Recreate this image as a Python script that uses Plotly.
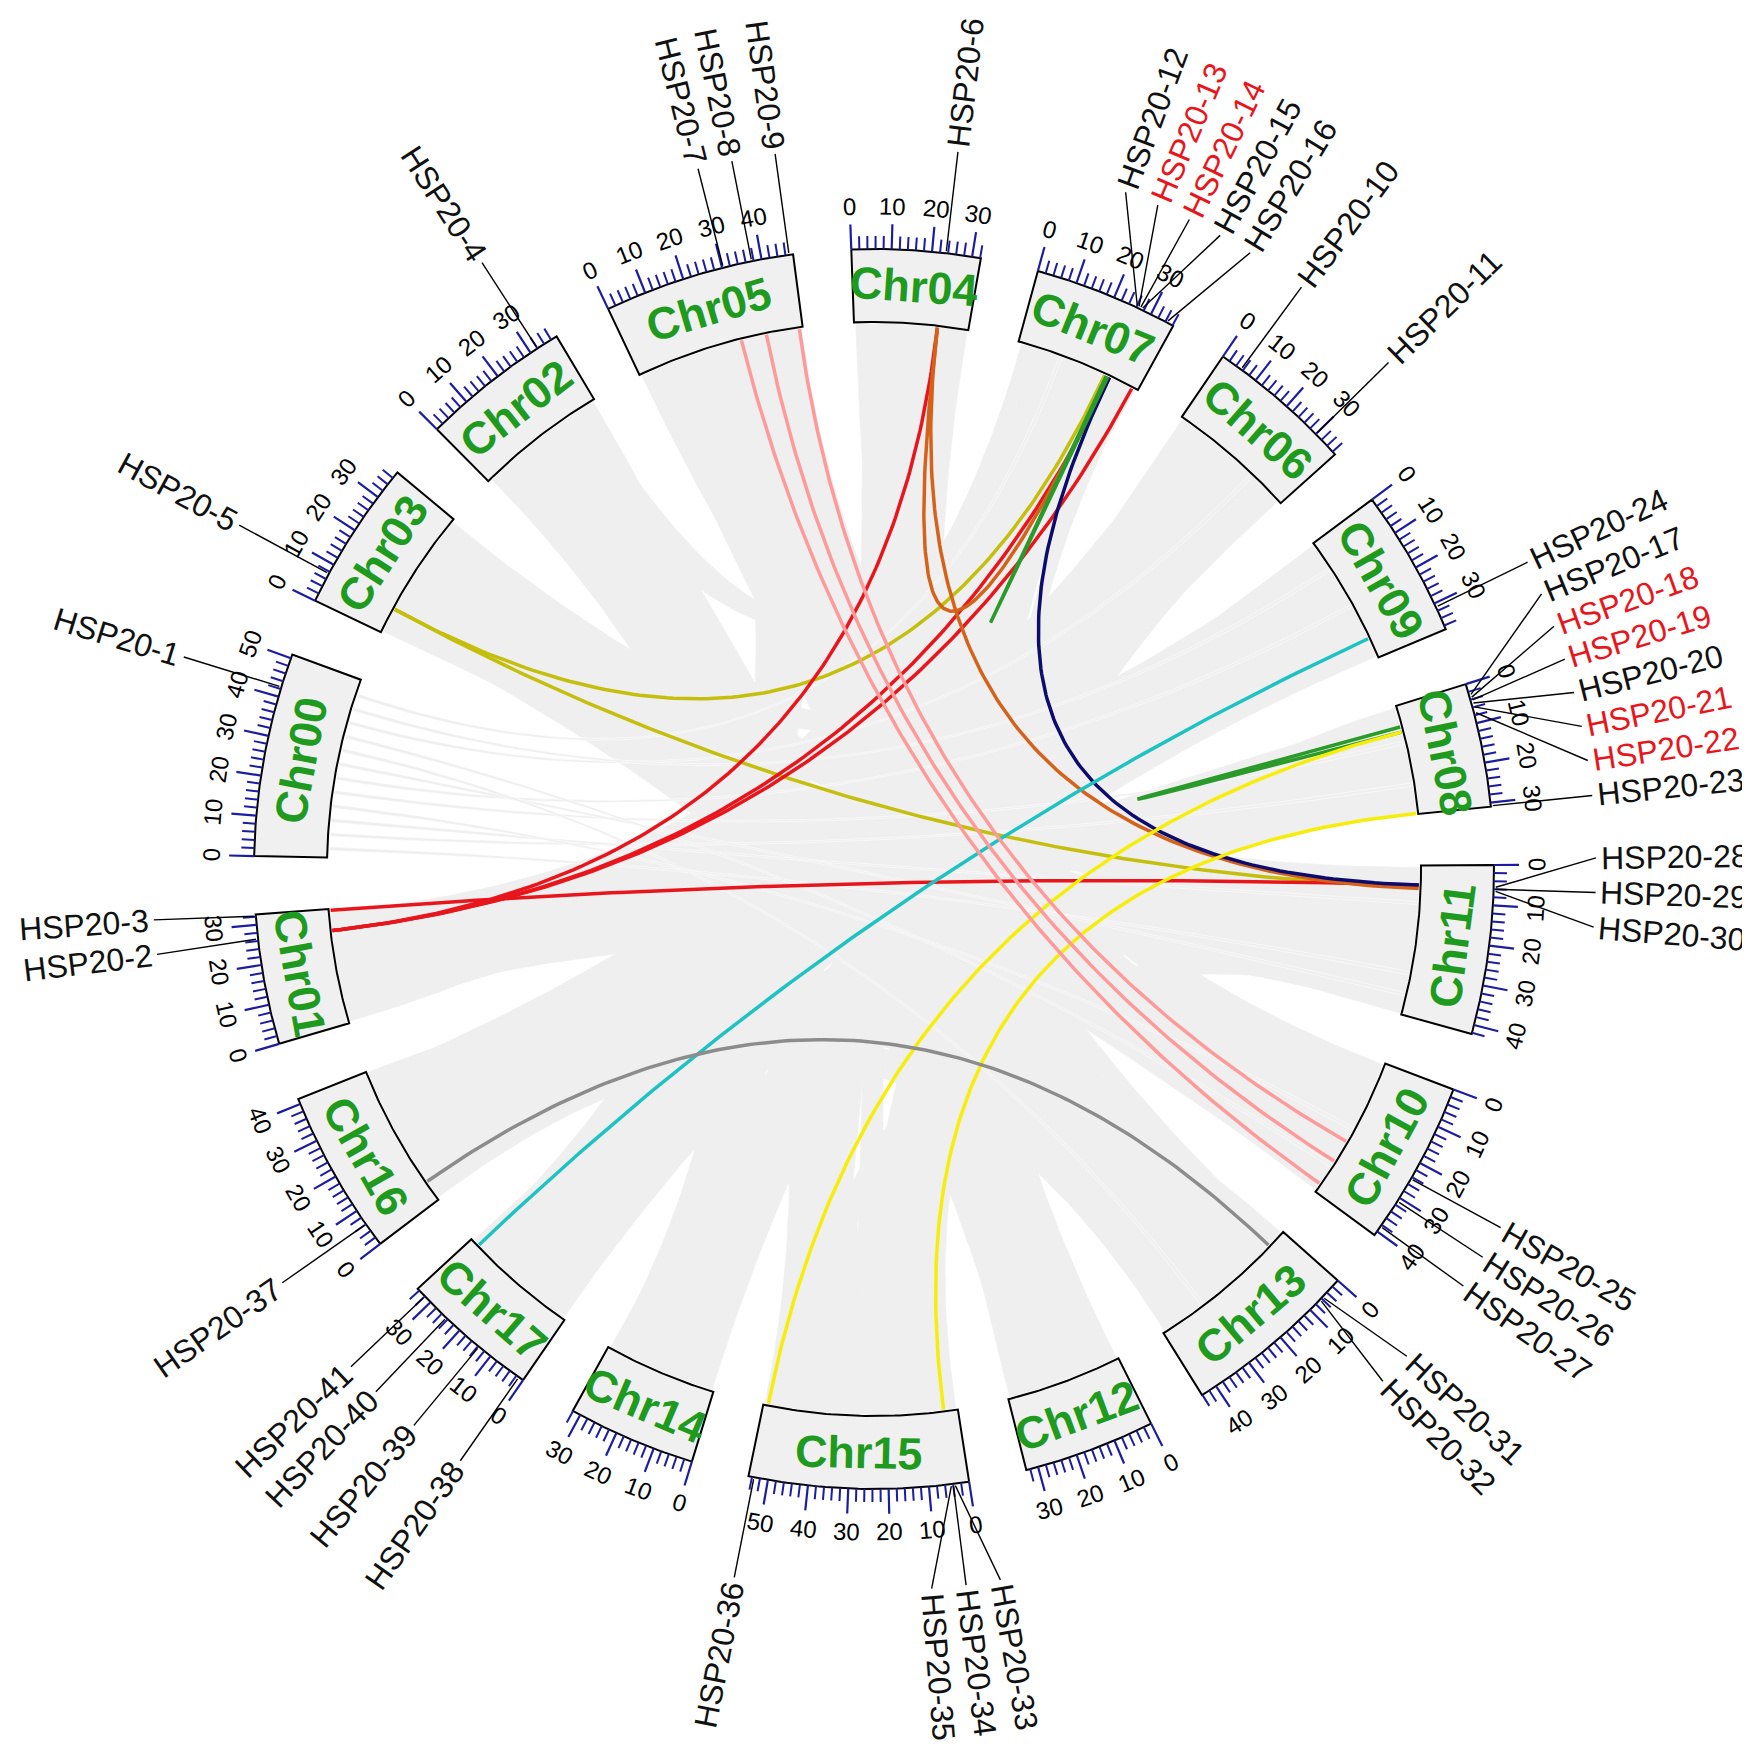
import math
import plotly.graph_objects as go

# chromosomes, clockwise from the top, with lengths in Mb
chroms = ["Chr04", "Chr07", "Chr06", "Chr09", "Chr08", "Chr11", "Chr10", "Chr13", "Chr12",
          "Chr15", "Chr14", "Chr17", "Chr16", "Chr01", "Chr00", "Chr03", "Chr02", "Chr05"]
chrom_len = [32.2, 36.2, 36.9, 37.0, 31.0, 42.3, 41.1, 44.1, 33.0,
             54.9, 32.1, 34.6, 41.3, 32.6, 51.0, 37.8, 37.6, 47.9]

# HSP20 genes: name, chromosome, position (Mb)
gene_names = ["HSP20-1", "HSP20-2", "HSP20-3", "HSP20-4", "HSP20-5", "HSP20-6", "HSP20-7",
              "HSP20-8", "HSP20-9", "HSP20-10", "HSP20-11", "HSP20-12", "HSP20-13", "HSP20-14",
              "HSP20-15", "HSP20-16", "HSP20-17", "HSP20-18", "HSP20-19", "HSP20-20", "HSP20-21",
              "HSP20-22", "HSP20-23", "HSP20-24", "HSP20-25", "HSP20-26", "HSP20-27", "HSP20-28",
              "HSP20-29", "HSP20-30", "HSP20-31", "HSP20-32", "HSP20-33", "HSP20-34", "HSP20-35",
              "HSP20-36", "HSP20-37", "HSP20-38", "HSP20-39", "HSP20-40", "HSP20-41"]
gene_chrom = ["Chr00", "Chr01", "Chr01", "Chr02", "Chr03", "Chr04", "Chr05",
              "Chr05", "Chr05", "Chr06", "Chr06", "Chr07", "Chr07", "Chr07",
              "Chr07", "Chr07", "Chr08", "Chr08", "Chr08", "Chr08", "Chr08",
              "Chr08", "Chr08", "Chr09", "Chr10", "Chr10", "Chr10", "Chr11",
              "Chr11", "Chr11", "Chr13", "Chr13", "Chr15", "Chr15", "Chr15",
              "Chr15", "Chr16", "Chr17", "Chr17", "Chr17", "Chr17"]
gene_pos = [42.5, 26.5, 32.2, 32.0, 7.5, 23.5, 30.3,
            37.5, 46.9, 5.5, 30.0, 26.0, 26.5, 27.0,
            27.5, 34.5, 2.8, 3.5, 4.2, 5.0, 6.0,
            7.5, 30.8, 31.0, 24.5, 31.0, 38.5, 5.5,
            6.0, 6.5, 5.5, 6.5, 3.5, 4.0, 4.5,
            53.5, 6.0, 1.3, 13.7, 24.5, 32.0]
tandem_genes = ["HSP20-13", "HSP20-14", "HSP20-18", "HSP20-19", "HSP20-21", "HSP20-22"]

# duplicated gene pairs
link_a = ["HSP20-5", "HSP20-5", "HSP20-6", "HSP20-15", "HSP20-16", "HSP20-3", "HSP20-6",
          "HSP20-6", "HSP20-15", "HSP20-13", "HSP20-21", "HSP20-24", "HSP20-22", "HSP20-23",
          "HSP20-37", "HSP20-7", "HSP20-8", "HSP20-9"]
link_b = ["HSP20-12", "HSP20-29", "HSP20-2", "HSP20-2", "HSP20-2", "HSP20-28", "HSP20-30",
          "HSP20-14", "HSP20-28", "HSP20-14", "HSP20-22", "HSP20-41", "HSP20-36", "HSP20-34",
          "HSP20-31", "HSP20-27", "HSP20-26", "HSP20-25"]
link_color = ["#C4BE0C", "#C4BE0C", "#E8161C", "#E8161C", "#E8161C", "#E8161C", "#D5621A",
              "#D5621A", "#0C0C6E", "#2A9A2A", "#2A9A2A", "#1FC2C2", "#F6EE0A", "#F6EE0A",
              "#8C8C8C", "#FF9A9A", "#FF9A9A", "#FF9A9A"]

# collinear blocks in the background
blk_a = ["Chr01", "Chr01", "Chr02", "Chr02", "Chr03", "Chr03", "Chr04", "Chr04", "Chr05",
         "Chr05", "Chr05", "Chr06", "Chr06", "Chr08", "Chr08", "Chr09", "Chr09", "Chr13",
         "Chr13",
         "Chr04", "Chr04", "Chr07", "Chr07", "Chr06", "Chr06", "Chr09", "Chr09", "Chr08",
         "Chr11", "Chr11", "Chr10", "Chr10", "Chr13", "Chr13", "Chr12", "Chr12", "Chr14",
         "Chr17", "Chr15", "Chr16", "Chr01",
         "Chr02", "Chr05", "Chr03", "Chr04", "Chr07", "Chr06", "Chr09", "Chr08", "Chr11",
         "Chr14", "Chr17", "Chr12", "Chr15", "Chr13", "Chr16",
         "Chr00", "Chr00", "Chr00", "Chr00", "Chr00", "Chr00", "Chr00", "Chr00", "Chr00",
         "Chr00", "Chr00", "Chr00"]
blk_a1 = [0.5, 16, 1, 21, 0.5, 19, 0.5, 16, 0.5, 16, 33, 0.5, 18, 0.5, 15, 0.5, 18, 0.5,
          21,
          4, 18, 2, 18, 2, 20, 3, 20, 8, 10, 26, 3, 22, 5, 28, 5, 20, 20, 3, 40, 30, 20,
          2, 2, 2, 2, 2, 2, 2, 2, 2, 2, 2, 2, 2, 2, 2,
          2, 6, 10, 14, 18, 22, 26, 30, 34, 38, 42, 46]
blk_a2 = [15, 32, 20, 37, 18, 37, 15, 32, 15, 32, 47.5, 17, 36, 14, 30.5, 17, 36.5, 20,
          43.5,
          14, 30, 14, 30, 15, 34, 15, 34, 20, 22, 40, 14, 36, 18, 40, 15, 30, 30, 12, 50, 40,
          30,
          36, 46, 36, 30, 35, 35, 35, 30, 41, 31, 33, 31, 30, 42, 40,
          3, 7, 11, 15, 19, 23, 27, 31, 35, 39, 43, 47]
blk_b = ["Chr07", "Chr07", "Chr15", "Chr15", "Chr11", "Chr11", "Chr12", "Chr12", "Chr10",
         "Chr10", "Chr10", "Chr14", "Chr14", "Chr15", "Chr15", "Chr17", "Chr17", "Chr16",
         "Chr16",
         "Chr15", "Chr14", "Chr02", "Chr16", "Chr17", "Chr01", "Chr16", "Chr03", "Chr01",
         "Chr16", "Chr05", "Chr03", "Chr02", "Chr05", "Chr07", "Chr05", "Chr06", "Chr09",
         "Chr04", "Chr11", "Chr08", "Chr13",
         "Chr12", "Chr13", "Chr10", "Chr15", "Chr17", "Chr16", "Chr01", "Chr16", "Chr01",
         "Chr02", "Chr05", "Chr07", "Chr06", "Chr03", "Chr09",
         "Chr11", "Chr08", "Chr11", "Chr10", "Chr08", "Chr09", "Chr11", "Chr13", "Chr10",
         "Chr06", "Chr09", "Chr07"]
blk_b1 = [1, 17, 36, 27, 22, 0.5, 17, 0.5, 27, 14, 0.5, 16, 0.5, 13, 0.5, 18, 0.5, 21,
          0.5,
          20, 5, 22, 10, 20, 5, 25, 20, 18, 2, 5, 5, 3, 20, 30, 35, 8, 10, 20, 30, 22, 30,
          2, 2, 16, 35, 2, 2, 2, 20, 5, 5, 20, 5, 10, 2, 5,
          30, 22, 10, 20, 10, 20, 36, 30, 32, 25, 8, 12]
blk_b2 = [16, 35.5, 54.5, 35, 42, 21, 32.5, 16, 40.5, 26, 13, 31.5, 15, 26, 12, 34, 17, 41,
          20,
          30, 18, 35, 22, 32, 15, 38, 32, 30, 12, 15, 15, 14, 30, 35, 45, 16, 18, 28, 38, 30,
          40,
          31, 42, 40, 53, 33, 40, 31, 40, 30, 30, 46, 30, 35, 30, 35,
          31, 23, 11, 21, 11, 21, 37, 31, 33, 26, 9, 13]

W, H = 1750, 1745
CX, CY = 866, 884
R_LINK, R_IN, R_OUT = 545, 547, 620
GAP, START = 5.4, 92.1
SEP = 2.75

deg_mb = (360 - GAP * len(chroms)) / sum(chrom_len)
chr_start = {}
a = START
for c, L in zip(chroms, chrom_len):
    chr_start[c] = a
    a -= L * deg_mb + GAP


def ang(c, p):
    return chr_start[c] - p * deg_mb


def xy(r, d):
    t = math.radians(d)
    return CX + r * math.cos(t), CY + r * math.sin(t)


def arc(r, d1, d2, n=40):
    return [xy(r, d1 + (d2 - d1) * k / n) for k in range(n + 1)]


def bez(p0, p2, n=80):
    pts = []
    for k in range(n + 1):
        t = k / n
        pts.append(((1 - t) ** 2 * p0[0] + 2 * t * (1 - t) * CX + t * t * p2[0],
                    (1 - t) ** 2 * p0[1] + 2 * t * (1 - t) * CY + t * t * p2[1]))
    return pts


def tang(d):
    return ((90 - d + 90) % 180) - 90


def radial(d):
    return ((-d + 90) % 180) - 90


cw = {"H": .722, "S": .667, "P": .667, "-": .333}


def twidth(s, size):
    return sum(cw.get(ch, .556) for ch in s) * size


fig = go.Figure()

# background collinear ribbons
for i in range(len(blk_a)):
    pts = arc(R_LINK, ang(blk_a[i], blk_a1[i]), ang(blk_a[i], blk_a2[i]), 20)
    pts += bez(pts[-1], xy(R_LINK, ang(blk_b[i], blk_b1[i])))
    pts += arc(R_LINK, ang(blk_b[i], blk_b1[i]), ang(blk_b[i], blk_b2[i]), 20)
    pts += bez(pts[-1], xy(R_LINK, ang(blk_a[i], blk_a1[i])))
    thin = blk_a2[i] - blk_a1[i] < 2
    fig.add_trace(go.Scatter(x=[p[0] for p in pts], y=[p[1] for p in pts], mode="lines",
                             fill="toself", fillcolor="#EFEFEF",
                             line=dict(color="white" if thin else "#EFEFEF", width=0.5),
                             hoverinfo="skip"))

gi = {g: k for k, g in enumerate(gene_names)}
gene_ang = [ang(c, p) for c, p in zip(gene_chrom, gene_pos)]

# gene pair links
for a_, b_, col in zip(link_a, link_b, link_color):
    p0 = xy(R_LINK, gene_ang[gi[a_]])
    p2 = xy(R_LINK, gene_ang[gi[b_]])
    pts = bez(p0, p2, 120)
    fig.add_trace(go.Scatter(x=[p[0] for p in pts], y=[p[1] for p in pts], mode="lines",
                             line=dict(color=col, width=3.5), hoverinfo="skip"))

ann = []
tx, ty, mx, my = [], [], [], []
for c, L in zip(chroms, chrom_len):
    s, e = ang(c, 0), ang(c, L)
    box = arc(R_OUT, s, e) + arc(R_IN, e, s)
    box.append(box[0])
    fig.add_trace(go.Scatter(x=[p[0] for p in box], y=[p[1] for p in box], mode="lines",
                             fill="toself", fillcolor="#F0F0F0",
                             line=dict(color="black", width=2), hoverinfo="skip"))
    mid = (s + e) / 2
    px, py = xy((R_IN + R_OUT) / 2, mid)
    ann.append(dict(x=px, y=py, text="<b>%s</b>" % c, showarrow=False, textangle=tang(mid),
                    font=dict(size=45, color="#1E9B1E", family="Liberation Sans, Arial")))
    p = 0
    while p <= L:
        d = ang(c, p)
        major = p % 10 == 0
        x1, y1 = xy(R_OUT, d)
        x2, y2 = xy(R_OUT + (25 if major else 13), d)
        if major:
            mx += [x1, x2, None]
            my += [y1, y2, None]
            lx, ly = xy(R_OUT + 43, d)
            ann.append(dict(x=lx, y=ly, text=str(p), showarrow=False, textangle=tang(d),
                            font=dict(size=24, color="black", family="Liberation Sans, Arial")))
        else:
            tx += [x1, x2, None]
            ty += [y1, y2, None]
        p += 2

fig.add_trace(go.Scatter(x=tx, y=ty, mode="lines", line=dict(color="#1C1CA0", width=2),
                         hoverinfo="skip"))
fig.add_trace(go.Scatter(x=mx, y=my, mode="lines", line=dict(color="#1C1CA0", width=2.2),
                         hoverinfo="skip"))

# spread gene labels so neighbours keep a minimum angular distance
order = sorted(range(len(gene_names)), key=lambda i: -gene_ang[i])
clusters = [[i] for i in order]


def cmean(cl):
    return sum(gene_ang[i] for i in cl) / len(cl)


changed = True
while changed:
    changed = False
    for k in range(len(clusters) - 1):
        c1, c2 = clusters[k], clusters[k + 1]
        low1 = cmean(c1) - (len(c1) - 1) * SEP / 2
        high2 = cmean(c2) + (len(c2) - 1) * SEP / 2
        if low1 - high2 < SEP:
            clusters[k] = c1 + c2
            del clusters[k + 1]
            changed = True
            break

label_ang = {}
for cl in clusters:
    m = cmean(cl)
    for j, i in enumerate(cl):
        label_ang[i] = m + ((len(cl) - 1) / 2 - j) * SEP

lx_, ly_ = [], []
for i, g in enumerate(gene_names):
    x1, y1 = xy(R_OUT + 2, gene_ang[i])
    x2, y2 = xy(722, label_ang[i])
    lx_ += [x1, x2, None]
    ly_ += [y1, y2, None]
    w = twidth(g, 32)
    cx_, cy_ = xy(727 + w / 2, label_ang[i])
    col = "#E8161C" if g in tandem_genes else "#111111"
    ann.append(dict(x=cx_, y=cy_, text=g, showarrow=False, textangle=radial(label_ang[i]),
                    font=dict(size=32, color=col, family="Liberation Sans, Arial")))

fig.add_trace(go.Scatter(x=lx_, y=ly_, mode="lines", line=dict(color="black", width=1.4),
                         hoverinfo="skip"))

for a_ in ann:
    a_.update(xref="x", yref="y", xanchor="center", yanchor="middle")

fig.update_layout(width=W, height=H, margin=dict(l=0, r=0, t=0, b=0),
                  paper_bgcolor="white", plot_bgcolor="white", showlegend=False,
                  annotations=ann,
                  xaxis=dict(range=[0, W], visible=False, fixedrange=True),
                  yaxis=dict(range=[0, H], visible=False, fixedrange=True))
fig.write_html("out.html")
